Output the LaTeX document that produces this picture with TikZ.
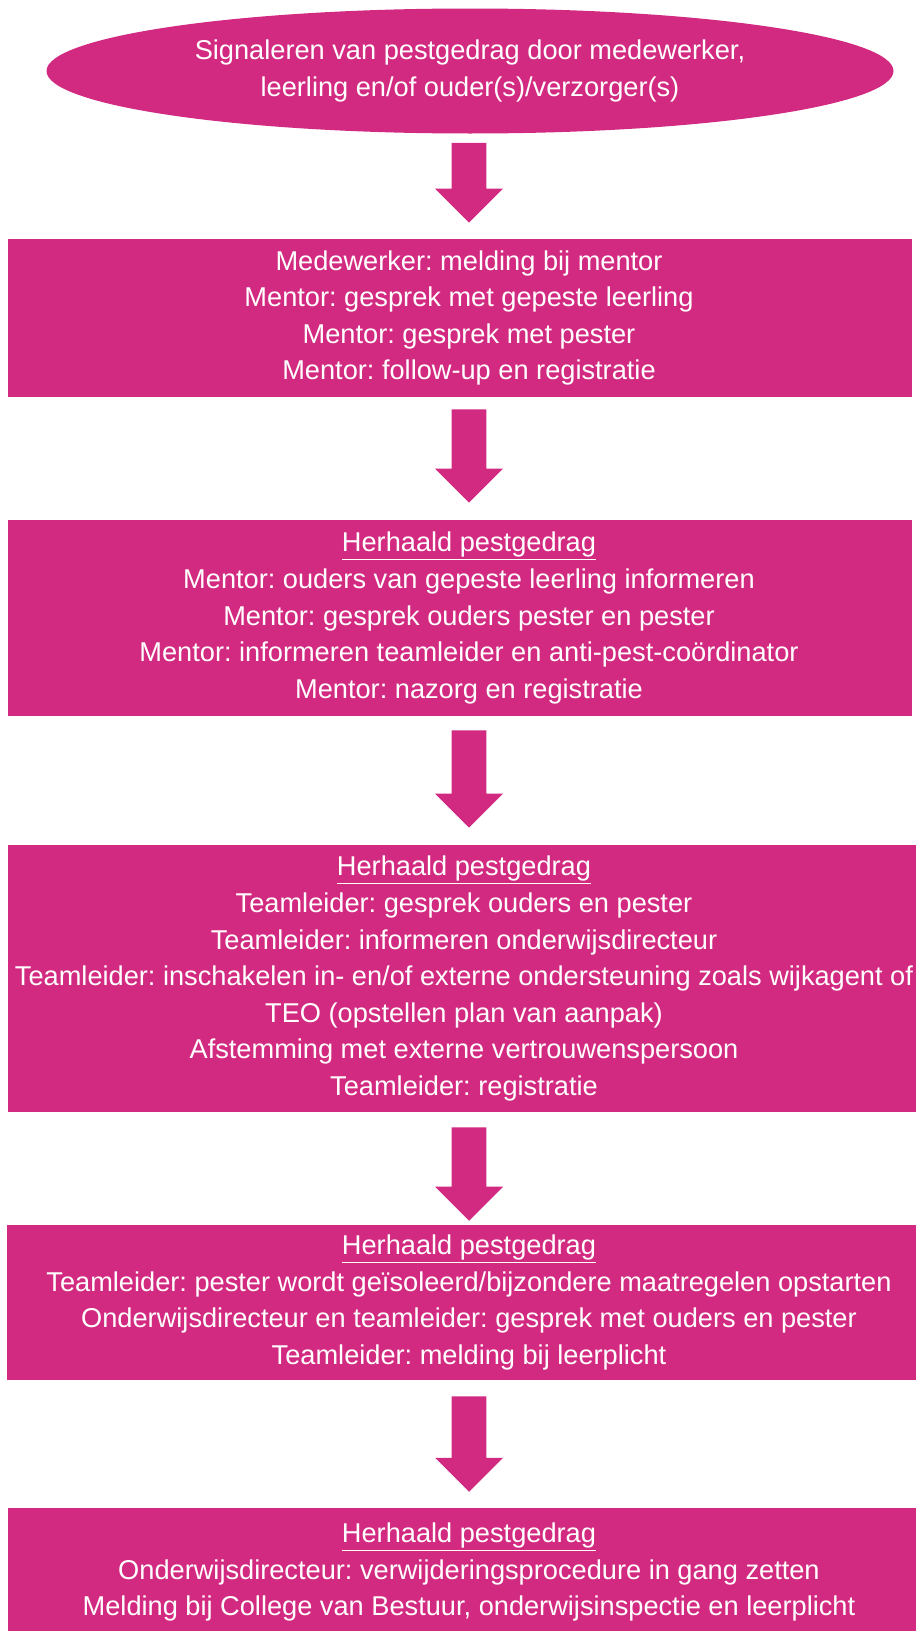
\documentclass[tikz,border=0pt]{standalone}
\usepackage{fontspec}
\setmainfont{Liberation Sans}
\frenchspacing
\usetikzlibrary{shapes.geometric,calc}
\definecolor{pestroze}{RGB}{211,42,129}
\def\pijlx{351.75pt}

\begin{document}
\begin{tikzpicture}[x=0.75pt,y=-0.75pt,
  tekst/.style={text=white,align=center,inner sep=0pt,
    font=\fontsize{20.4pt}{27.4pt}\selectfont},
  ovaal/.style={tekst,fill=pestroze,ellipse}]
  \clip (0,0) rectangle (916,1631);
  \fill[pestroze] (8,239) rectangle (912,397);
  \fill[pestroze] (8,520) rectangle (912,716);
  \fill[pestroze] (8,845) rectangle (916,1112);
  \fill[pestroze] (7,1225) rectangle (916,1380);
  \fill[pestroze] (8,1508) rectangle (916,1640);
  \node[ovaal,minimum width=635.25pt,minimum height=93.75pt] (sig) at (470,71)
    {Signaleren van pestgedrag door medewerker,\\leerling en/of ouder(s)/verzorger(s)};
  \node[tekst,minimum height=118.5pt] (b1) at (469,318)
    {Medewerker: melding bij mentor\\Mentor: gesprek met gepeste leerling\\
     Mentor: gesprek met pester\\Mentor: follow-up en registratie};
  \node[tekst,minimum height=147pt] (b2) at (469,618)
    {\underline{Herhaald pestgedrag}\\Mentor: ouders van gepeste leerling informeren\\
     Mentor: gesprek ouders pester en pester\\
     Mentor: informeren teamleider en anti-pest-coördinator\\Mentor: nazorg en registratie};
  \node[tekst,minimum height=200.25pt] (b3) at (464,978.5)
    {\underline{Herhaald pestgedrag}\\Teamleider: gesprek ouders en pester\\
     Teamleider: informeren onderwijsdirecteur\\
     Teamleider: inschakelen in- en/of externe ondersteuning zoals wijkagent of\\
     TEO (opstellen plan van aanpak)\\Afstemming met externe vertrouwenspersoon\\
     Teamleider: registratie};
  \node[tekst,minimum height=116.25pt] (b4) at (469,1302.5)
    {\underline{Herhaald pestgedrag}\\
     Teamleider: pester wordt geïsoleerd/bijzondere maatregelen opstarten\\
     Onderwijsdirecteur en teamleider: gesprek met ouders en pester\\
     Teamleider: melding bij leerplicht};
  \node[tekst,minimum height=96pt] (b5) at (469,1572)
    {\underline{Herhaald pestgedrag}\\
     Onderwijsdirecteur: verwijderingsprocedure in gang zetten\\
     Melding bij College van Bestuur, onderwijsinspectie en leerplicht};
  \foreach \van/\naar/\boven/\onder in {sig/b1/9/16,b1/b2/12/17,b2/b3/14/17,b3/b4/15/4,b4/b5/16/16}
    \fill[pestroze] let \p1=($(\van.south)+(0,\boven)$), \p2=($(\naar.north)+(0,-\onder)$) in
      ({\pijlx-13.1pt},{\y1}) -- ({\pijlx+13.1pt},{\y1}) -- ({\pijlx+13.1pt},{\y2+25.5pt})
      -- ({\pijlx+25.5pt},{\y2+25.5pt}) -- ({\pijlx},{\y2}) -- ({\pijlx-25.5pt},{\y2+25.5pt})
      -- ({\pijlx-13.1pt},{\y2+25.5pt}) -- cycle;
\end{tikzpicture}
\end{document}
